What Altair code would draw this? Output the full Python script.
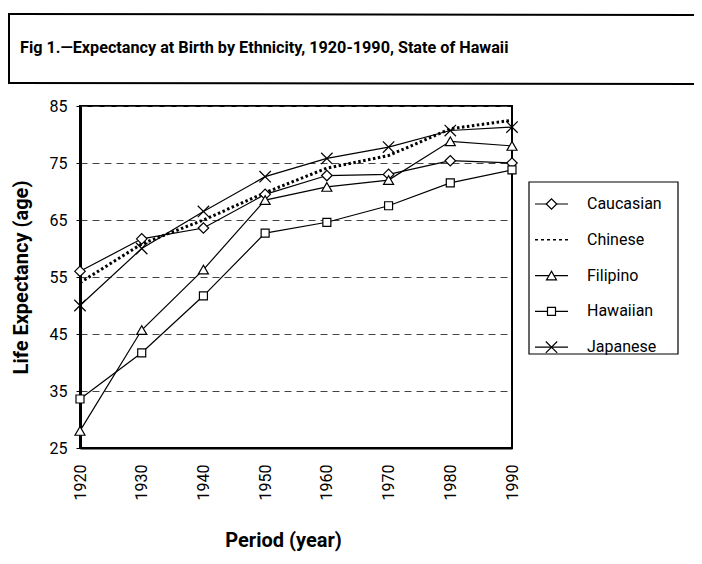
import altair as alt
import pandas as pd

years = [1920, 1930, 1940, 1950, 1960, 1970, 1980, 1990]
series = ["Caucasian", "Chinese", "Filipino", "Hawaiian", "Japanese"]
caucasian = [56, 61.7, 63.6, 69.5, 72.8, 73.0, 75.4, 75.0]
chinese = [54, 60.8, 65.0, 69.8, 74.1, 76.3, 81.0, 82.5]
filipino = [28, 45.7, 56.3, 68.5, 70.8, 72.0, 78.8, 78.0]
hawaiian = [33.6, 41.7, 51.7, 62.7, 64.6, 67.5, 71.5, 73.8]
japanese = [50, 60, 66.5, 72.6, 75.8, 77.8, 80.7, 81.3]
y_ticks = [25, 35, 45, 55, 65, 75, 85]

title_text = "Fig 1.\u2014Expectancy at Birth by Ethnicity, 1920-1990, State of Hawaii"
FONT = "Roboto"

rows = []
for name, vals in zip(series, [caucasian, chinese, filipino, hawaiian, japanese]):
    for yr, v in zip(years, vals):
        rows.append({"year": yr, "value": v, "series": name})
df = pd.DataFrame(rows)

X_PATH = "M-1,-1L1,1M-1,1L1,-1"
shapes = {"Caucasian": ("diamond", 110), "Filipino": ("triangle-up", 100),
          "Hawaiian": ("square", 64), "Japanese": (X_PATH, 130)}

W, H = 432, 342

x_enc = alt.X("year:Q", scale=alt.Scale(domain=[1920, 1990], nice=False, zero=False),
              axis=alt.Axis(values=years, format="d", labelAngle=-90, labelFontSize=16,
                            labelFont=FONT, labelColor="black", labelPadding=16,
                            tickSize=0, grid=False, domainColor="black", domainWidth=2,
                            title="Period (year)", titleFont=FONT, titleFontSize=20,
                            titleFontWeight="bold", titleColor="black",
                            titleX=203, titleY=92, titleBaseline="middle", titleAnchor="middle"))
y_enc = alt.Y("value:Q", scale=alt.Scale(domain=[25, 85], nice=False, zero=False),
              axis=alt.Axis(values=y_ticks, labelFontSize=16, labelFont=FONT,
                            labelColor="black", labelPadding=9, tickSize=4, tickColor="black",
                            grid=True, gridColor="#444444", gridDash=[7, 5], gridWidth=1,
                            domainColor="black", domainWidth=3,
                            title="Life Expectancy (age)", titleFont=FONT, titleFontSize=20,
                            titleFontWeight="bold", titleColor="black",
                            titleX=-59, titleY=171, titleAngle=-90, titleBaseline="middle",
                            titleAnchor="middle"))

solid_lines = alt.Chart(df).transform_filter(alt.datum.series != "Chinese").mark_line(
    color="black", strokeWidth=1.2).encode(x=x_enc, y=y_enc, detail="series:N")

chinese_line = alt.Chart(df).transform_filter(alt.datum.series == "Chinese").mark_line(
    color="black", strokeWidth=3, strokeDash=[2.5, 2.5]).encode(x="year:Q", y="value:Q")

layers = [solid_lines, chinese_line]

for name, (shp, sz) in shapes.items():
    layers.append(alt.Chart(df).transform_filter(alt.datum.series == name).mark_point(
        filled=True, fill="white", stroke="black", strokeWidth=1.2, opacity=1,
        shape=shp, size=sz).encode(x="year:Q", y="value:Q"))

# frame of the figure (page coordinates offset by plot origin)
def rule(x1, x2, y1, y2, w=2):
    return alt.Chart(pd.DataFrame({"a": [0]})).mark_rule(color="black", strokeWidth=w).encode(
        x=alt.value(x1), x2=alt.value(x2), y=alt.value(y1), y2=alt.value(y2))

layers += [
    rule(-72, 617, -92, -91),
    rule(-72, 617, -23, -22),
    rule(617, 617, -92, 456),
    rule(-71, -71, -92, -23),
    rule(-72, 200, 456, 456),
]

title = alt.Chart(pd.DataFrame({"t": [title_text]})).mark_text(
    align="left", baseline="middle", font=FONT, fontSize=16.2, fontWeight="bold", color="black"
).encode(text="t:N", x=alt.value(-60), y=alt.value(-58))
layers.append(title)

# legend box
legend_box = alt.Chart(pd.DataFrame({"a": [0]})).mark_rect(
    fill="white", stroke="black", strokeWidth=1.2).encode(
    x=alt.value(449), x2=alt.value(598), y=alt.value(76), y2=alt.value(248))
layers.append(legend_box)

row0, step = 98, 35.8
for i, name in enumerate(series):
    yy = row0 + i * step
    ldf = pd.DataFrame({"series": [name]})
    if name == "Chinese":
        layers.append(alt.Chart(ldf).mark_rule(color="black", strokeWidth=1.5, strokeDash=[3, 3]).encode(
            x=alt.value(455), x2=alt.value(488), y=alt.value(yy)))
    else:
        shp, sz = shapes[name]
        layers.append(alt.Chart(ldf).mark_rule(color="black", strokeWidth=1.2).encode(
            x=alt.value(455), x2=alt.value(488), y=alt.value(yy)))
        layers.append(alt.Chart(ldf).mark_point(
            filled=True, fill="white", stroke="black", strokeWidth=1.2, opacity=1,
            shape=shp, size=sz).encode(x=alt.value(471.5), y=alt.value(yy)))
    layers.append(alt.Chart(ldf).mark_text(
        align="left", baseline="middle", font=FONT, fontSize=16, color="black").encode(
        text="series:N", x=alt.value(507), y=alt.value(yy)))

chart = alt.layer(*layers).properties(
    width=W, height=H,
    autosize=alt.AutoSizeParams(type="none"),
    padding={"left": 72, "top": 98, "right": 182, "bottom": 108},
    background="white",
).configure_view(stroke="black", strokeWidth=2)

chart.save("out.html", embed_options={"renderer": "svg", "actions": False})
